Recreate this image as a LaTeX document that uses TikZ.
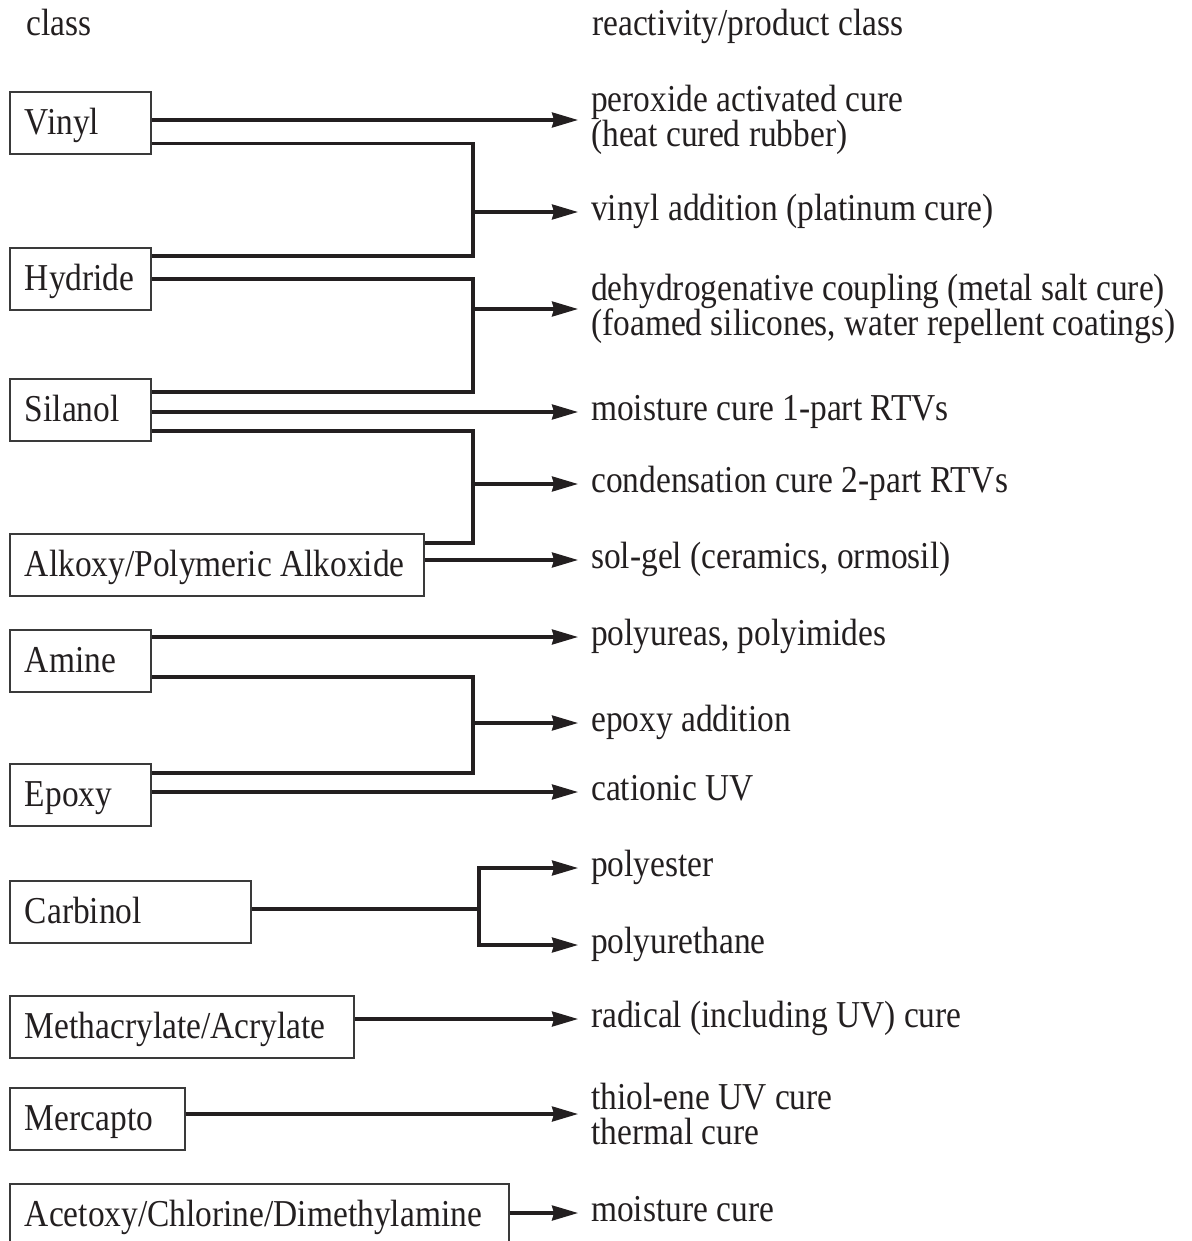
\documentclass[tikz,border=0pt]{standalone}
\usepackage{fontspec}
\setmainfont{Liberation Serif}[FakeStretch=0.88]
\usetikzlibrary{arrows.meta,calc}
\definecolor{ink}{HTML}{231F20}
\definecolor{boxline}{HTML}{3A3A3A}
\hyphenpenalty=10000
\exhyphenpenalty=10000
\begin{document}
\begin{tikzpicture}[x=1pt,y=-1pt,
  font=\fontsize{38}{36}\selectfont,
  every node/.style={text=ink},
  box/.style={draw=boxline, line width=1.8pt, anchor=north west,
    minimum height=62pt, inner xsep=15pt, inner ysep=0pt,
    text height=27pt, text depth=4pt, align=flush left, text width=#1},
  lab/.style={anchor=west, inner xsep=13pt, inner ysep=0pt,
    text height=26pt, text depth=9pt},
  lab2/.style={anchor=west, inner xsep=13pt, inner ysep=0pt, align=left,
    font=\fontsize{38}{35}\selectfont},
  head/.style={anchor=base west, inner sep=0pt},
  conn/.style={draw=ink, line width=3.3pt},
  arr/.style={draw=ink, line width=3.1pt, -{Stealth[length=26pt,width=15pt,inset=2pt]}}]
\clip (0,0) rectangle (1191,1241);
\useasboundingbox (0,0) rectangle (1191,1241);

% headers
\node[head] (hclass) at (26,36) {class};
\node[head] (hreact) at (592,36) {reactivity/product class};

% class boxes
\node[box=111pt] (vinyl)    at (9,91.5) {Vinyl};
\node[box=111pt] (hydride)  at (9,247)  {Hydride};
\node[box=111pt] (silanol)  at (9,378)  {Silanol};
\node[box=384pt] (alkoxy)   at (9,533)  {\mbox{Alkoxy/Polymeric Alkoxide}};
\node[box=111pt] (amine)    at (9,629)  {Amine};
\node[box=111pt] (epoxy)    at (9,763)  {Epoxy};
\node[box=211pt] (carbinol) at (9,880)  {Carbinol};
\node[box=314pt] (methac)   at (9,995)  {\mbox{Methacrylate/Acrylate}};
\node[box=145pt] (mercapto) at (9,1087) {Mercapto};
\node[box=469pt] (acetoxy)  at (9,1183) {\mbox{Acetoxy/Chlorine/Dimethylamine}};

% product labels
\node[lab2] (l1)  at (578,120)  {peroxide activated cure\\(heat cured rubber)};
\node[lab]  (l2)  at (578,212)  {vinyl addition (platinum cure)};
\node[lab2] (l3)  at (578,309)  {dehydrogenative coupling (metal salt cure)\\(foamed silicones, water repellent coatings)};
\node[lab]  (l4)  at (578,412)  {moisture cure 1-part RTVs};
\node[lab]  (l5)  at (578,484)  {condensation cure 2-part RTVs};
\node[lab]  (l6)  at (578,560)  {sol-gel (ceramics, ormosil)};
\node[lab]  (l7)  at (578,637)  {polyureas, polyimides};
\node[lab]  (l8)  at (578,723)  {epoxy addition};
\node[lab]  (l9)  at (578,792)  {cationic UV};
\node[lab]  (l10) at (578,868)  {polyester};
\node[lab]  (l11) at (578,945)  {polyurethane};
\node[lab]  (l12) at (578,1019) {radical (including UV) cure};
\node[lab2] (l13) at (578,1114) {thiol-ene UV cure\\thermal cure};
\node[lab]  (l14) at (578,1213) {moisture cure};

% trunk x positions
\coordinate (tA) at (473,0);
\coordinate (tB) at (479,0);

% attachment points on boxes
\coordinate (v2) at ($(vinyl.north east)+(0,52)$);
\coordinate (h1) at ($(hydride.north east)+(0,9)$);
\coordinate (h2) at ($(hydride.north east)+(0,32)$);
\coordinate (s1) at ($(silanol.north east)+(0,14)$);
\coordinate (s3) at ($(silanol.north east)+(0,53)$);
\coordinate (a1) at ($(alkoxy.north east)+(0,10)$);
\coordinate (m2) at ($(amine.north east)+(0,48)$);
\coordinate (e1) at ($(epoxy.north east)+(0,10)$);
\coordinate (c1) at ($(carbinol.north east)+(0,29)$);

% straight arrows
\draw[arr] (vinyl.east |- l1.west) -- (l1.west);
\draw[arr] (silanol.east |- l4.west) -- (l4.west);
\draw[arr] (alkoxy.east |- l6.west) -- (l6.west);
\draw[arr] (amine.east |- l7.west) -- (l7.west);
\draw[arr] (epoxy.east |- l9.west) -- (l9.west);
\draw[arr] (methac.east |- l12.west) -- (l12.west);
\draw[arr] (mercapto.east |- l13.west) -- (l13.west);
\draw[arr] (acetoxy.east |- l14.west) -- (l14.west);

% brackets
\draw[conn] (v2) -| (tA |- h1) -- (h1);
\draw[arr] (tA |- l2.west) -- (l2.west);

\draw[conn] (h2) -| (tA |- s1) -- (s1);
\draw[arr] (tA |- l3.west) -- (l3.west);

\draw[conn] (s3) -| (tA |- a1) -- (a1);
\draw[arr] (tA |- l5.west) -- (l5.west);

\draw[conn] (m2) -| (tA |- e1) -- (e1);
\draw[arr] (tA |- l8.west) -- (l8.west);

\draw[conn] (c1) -- (tB |- c1);
\draw[arr] (tB |- l10.west) -- (tB |- l11.west) -- (l11.west);
\draw[arr, line cap=rect] (tB |- l10.west) -- (l10.west);
\end{tikzpicture}
\end{document}
